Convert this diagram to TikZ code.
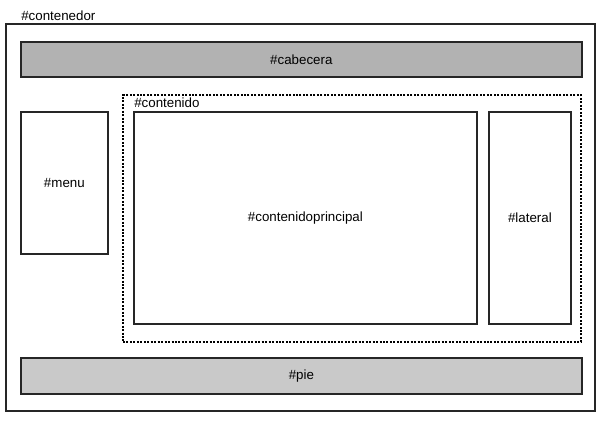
\documentclass[tikz,border=0pt]{standalone}
\usepackage{fontspec}
\setmainfont{Liberation Sans}
\usepackage{tikz}

\begin{document}
\begin{tikzpicture}[x=0.75pt,y=-0.75pt,
  box/.style={draw=black!85, line width=1.3pt, inner sep=0pt, anchor=north west, font=\fontsize{10}{12}\selectfont},
  tag/.style={inner sep=0pt, font=\fontsize{10}{12}\selectfont}]

  \def\u{0.75pt}

  \useasboundingbox (0,0) rectangle (600,424);

  % outer frame
  \node[box, minimum width=589*\u, minimum height=387*\u] (contenedor) at (5,23) {};
  \node[tag, anchor=base west] (contenedorlabel) at (21,21) {\#contenedor};

  % header and footer
  \node[box, fill=black!30, minimum width=561*\u, minimum height=35*\u] (cabecera) at (20,41) {\#cabecera};
  \node[box, fill=black!21, minimum width=561*\u, minimum height=36*\u] (pie) at (20,357) {\#pie};

  % left menu
  \node[box, minimum width=87*\u, minimum height=142*\u] (menu) at (20,111) {\#menu};

  % content wrapper
  \node[box, draw=black, line width=1.5pt, dash pattern=on 1.5pt off 1.1pt, minimum width=458*\u, minimum height=247*\u] (contenido) at (122,94) {};
  \node[tag, anchor=base west] (contenidolabel) at (134,107.5) {\#contenido};

  \node[box, minimum width=343*\u, minimum height=212*\u] (contenidoprincipal) at (133,111) {\#contenidoprincipal};
  \node[box, minimum width=82*\u, minimum height=212*\u] (lateral) at (488,111) {\#lateral};

\end{tikzpicture}
\end{document}
